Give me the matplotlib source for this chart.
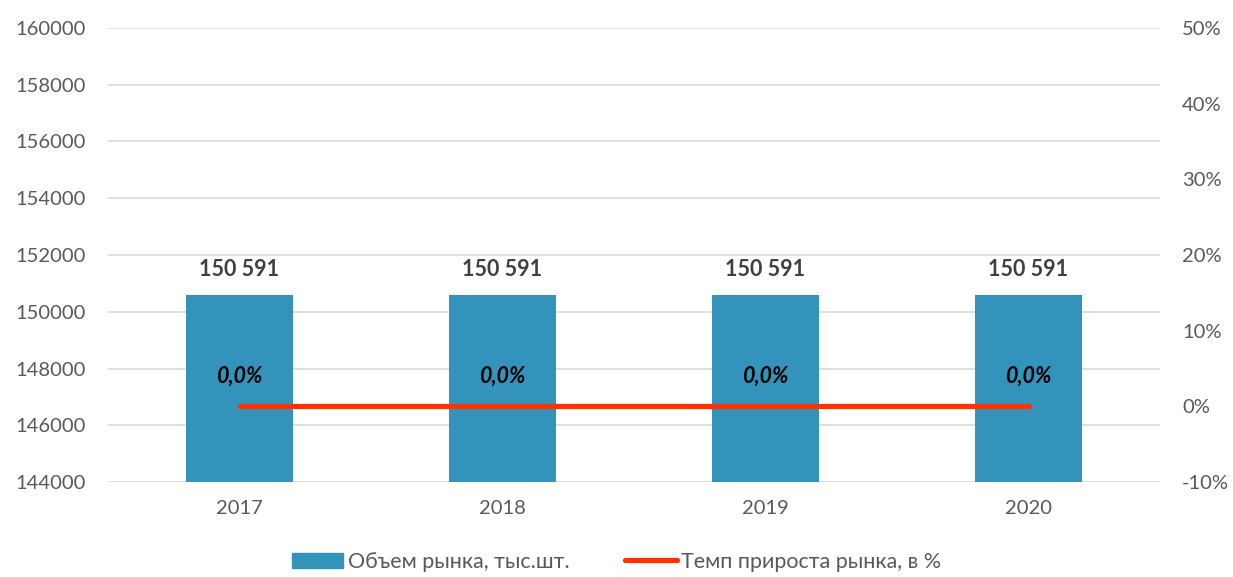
import matplotlib.pyplot as plt
from matplotlib.lines import Line2D
from matplotlib.patches import Patch

years = ["2017", "2018", "2019", "2020"]
volume = [150591, 150591, 150591, 150591]
growth = [0.0, 0.0, 0.0, 0.0]
volume_labels = ["150 591", "150 591", "150 591", "150 591"]
growth_labels = ["0,0%", "0,0%", "0,0%", "0,0%"]

bar_color = "#3493BA"
line_color = "#FF3300"
text_color = "#595959"

plt.rcParams["font.family"] = ["Lato", "DejaVu Sans"]

fig = plt.figure(figsize=(12.33, 5.77), dpi=100)
ax = fig.add_axes([0.0876, 0.1646, 0.8532, 0.7869])
x = list(range(len(years)))

ax.bar(x, volume, width=0.405, color=bar_color, zorder=2)
ax.set_ylim(144000, 160000)
ax.set_yticks(range(144000, 160001, 2000))
ax.set_xlim(-0.5, 3.5)
ax.set_xticks(x)
ax.set_xticklabels(years)
ax.grid(axis="y", color="#D9D9D9", linewidth=1.2, zorder=0)
for s in ax.spines.values():
    s.set_visible(False)
ax.tick_params(axis="both", length=0, labelsize=14.5, colors=text_color, pad=16)
ax.tick_params(axis="x", pad=13)
for xi, v, lab in zip(x, volume, volume_labels):
    ax.annotate(lab, (xi, v), xytext=(0, 11), textcoords="offset points",
                ha="center", va="bottom", fontsize=15.5, fontweight="bold",
                color="#404040")

ax2 = ax.twinx()
ax2.plot(x, growth, color=line_color, linewidth=3.8, solid_capstyle="round", zorder=3)
ax2.set_ylim(-10, 50)
ax2.set_yticks(range(-10, 51, 10))
ax2.set_yticklabels([f"{t}%" for t in range(-10, 51, 10)])
for s in ax2.spines.values():
    s.set_visible(False)
ax2.tick_params(axis="y", length=0, labelsize=14.5, colors=text_color, pad=16)
for xi, g, lab in zip(x, growth, growth_labels):
    ax2.annotate(lab, (xi, g), xytext=(0, 22), textcoords="offset points",
                 ha="center", va="center", fontsize=15.5, fontweight="bold",
                 fontstyle="italic", color="black")

handles = [Patch(color=bar_color),
           Line2D([0], [0], color=line_color, linewidth=3.8, solid_capstyle="round")]
fig.legend(handles, ["Объем рынка, тыс.шт.", "Темп прироста рынка, в %"],
           loc="lower center", bbox_to_anchor=(0.5, -0.025), ncol=2, frameon=False,
           fontsize=15.5, labelcolor=text_color, handlelength=2.4, handleheight=0.75,
           handletextpad=0.2, columnspacing=2.6)

fig.savefig("out.png", dpi=100)
